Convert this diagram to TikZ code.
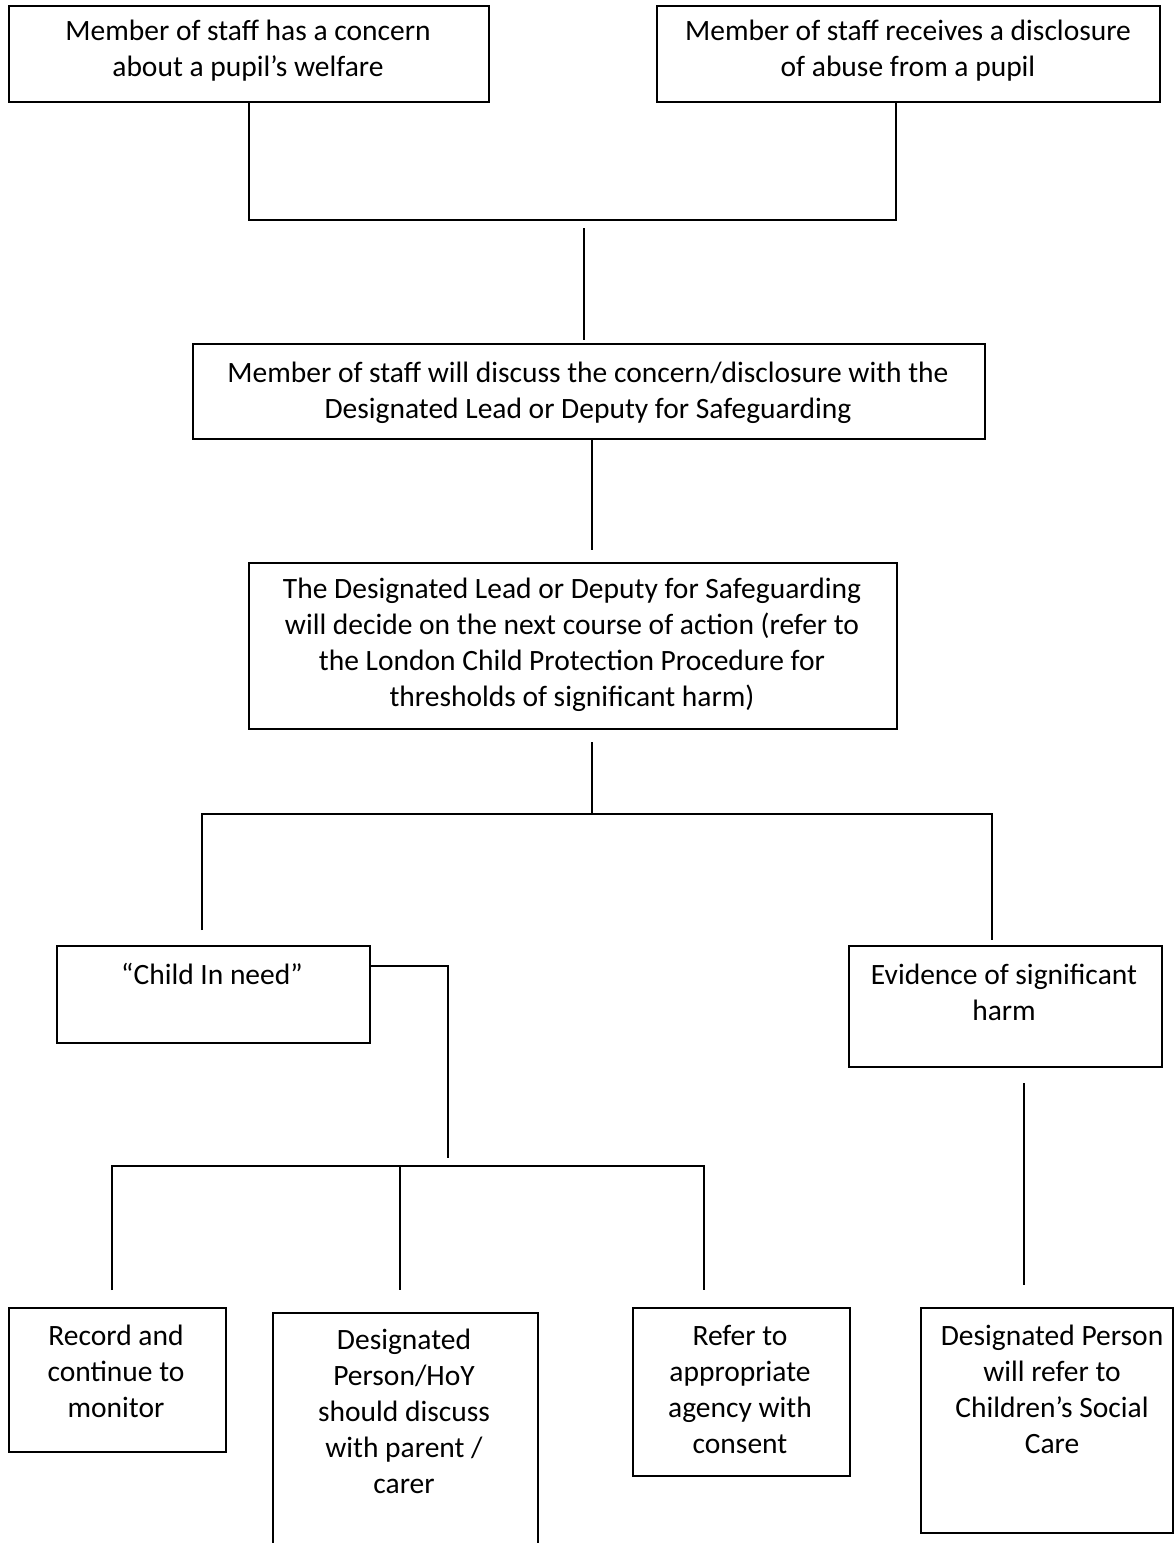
\documentclass[tikz,border=0pt]{standalone}
\usepackage{fontspec}
\setmainfont{Carlito}
\begin{document}
\begin{tikzpicture}[x=1pt,y=-1pt,
  box/.style={draw, line width=2pt, anchor=north west, inner sep=0pt},
  txt/.style={align=center, inner sep=0pt, anchor=north, font=\fontsize{29.5}{36}\selectfont},
  conn/.style={line width=1.6pt}]
\path[use as bounding box] (0,0) rectangle (1176,1543);
\clip (0,0) rectangle (1176,1543);
% boxes
\node[box, minimum width=480pt, minimum height=96pt] (b1) at (8,5) {};
\node[box, minimum width=503pt, minimum height=96pt] (b2) at (656,5) {};
\node[box, minimum width=792pt, minimum height=95pt] (b3) at (192,343) {};
\node[box, minimum width=648pt, minimum height=166pt] (b4) at (248,562) {};
\node[box, minimum width=313pt, minimum height=97pt] (b5) at (56,945) {};
\node[box, minimum width=313pt, minimum height=121pt] (b6) at (848,945) {};
\node[box, minimum width=217pt, minimum height=144pt] (b7) at (8,1307) {};
\node[box, minimum width=265pt, minimum height=260pt] (b8) at (272,1312) {};
\node[box, minimum width=217pt, minimum height=168pt] (b9) at (632,1307) {};
\node[box, minimum width=252pt, minimum height=225pt] (b10) at (920,1307) {};
% texts
\node[txt] (t1) at (248,14.8) {\strut Member of staff has a concern\\about a pupil’s welfare};
\node[txt] (t2) at (908,14.8) {\strut Member of staff receives a disclosure\\of abuse from a pupil};
\node[txt] (t3) at (588,356.8) {\strut Member of staff will discuss the concern/disclosure with the\\Designated Lead or Deputy for Safeguarding};
\node[txt] (t4) at (572,572.8) {\strut The Designated Lead or Deputy for Safeguarding\\will decide on the next course of action (refer to\\the London Child Protection Procedure for\\thresholds of significant harm)};
\node[txt] (t5) at (212,958.8) {\strut “Child In need”};
\node[txt] (t6) at (1004,958.8) {\strut Evidence of significant\\harm};
\node[txt] (t7) at (116,1319.8) {\strut Record and\\continue to\\monitor};
\node[txt] (t8) at (404,1323.8) {\strut Designated\\Person/HoY\\should discuss\\with parent /\\carer};
\node[txt] (t9) at (740,1319.8) {\strut Refer to\\appropriate\\agency with\\consent};
\node[txt] (t10) at (1052,1319.8) {\strut Designated Person\\will refer to\\Children’s Social\\Care};
% free-end coordinates
\coordinate (j1) at (896,220);
\coordinate (l1a) at (584,228);
\coordinate (l1b) at (584,340);
\coordinate (l2b) at (592,550);
\coordinate (l3a) at (592,742);
\coordinate (br) at (592,814);
\coordinate (brl) at (202,930);
\coordinate (brr) at (992,940);
\coordinate (c5) at (448,1158);
\coordinate (e1) at (1024,1083);
\coordinate (e2) at (1024,1285);
\coordinate (k) at (400,1166);
\coordinate (kl) at (112,1290);
\coordinate (km) at (400,1290);
\coordinate (kr) at (704,1290);
% connectors
\draw[conn] (b1.south) |- (j1) -- (j1 |- b2.south);
\draw[conn] (l1a) -- (l1b);
\draw[conn] (b3.south -| l2b) -- (l2b);
\draw[conn] (l3a) -- (br);
\draw[conn] (brl) |- (br) -| (brr);
\draw[conn] (b5.north east |- 0,966) -| (c5);
\draw[conn] (e1) -- (e2);
\draw[conn] (kl) |- (k) -| (kr);
\draw[conn] (k) -- (km);
\end{tikzpicture}
\end{document}
